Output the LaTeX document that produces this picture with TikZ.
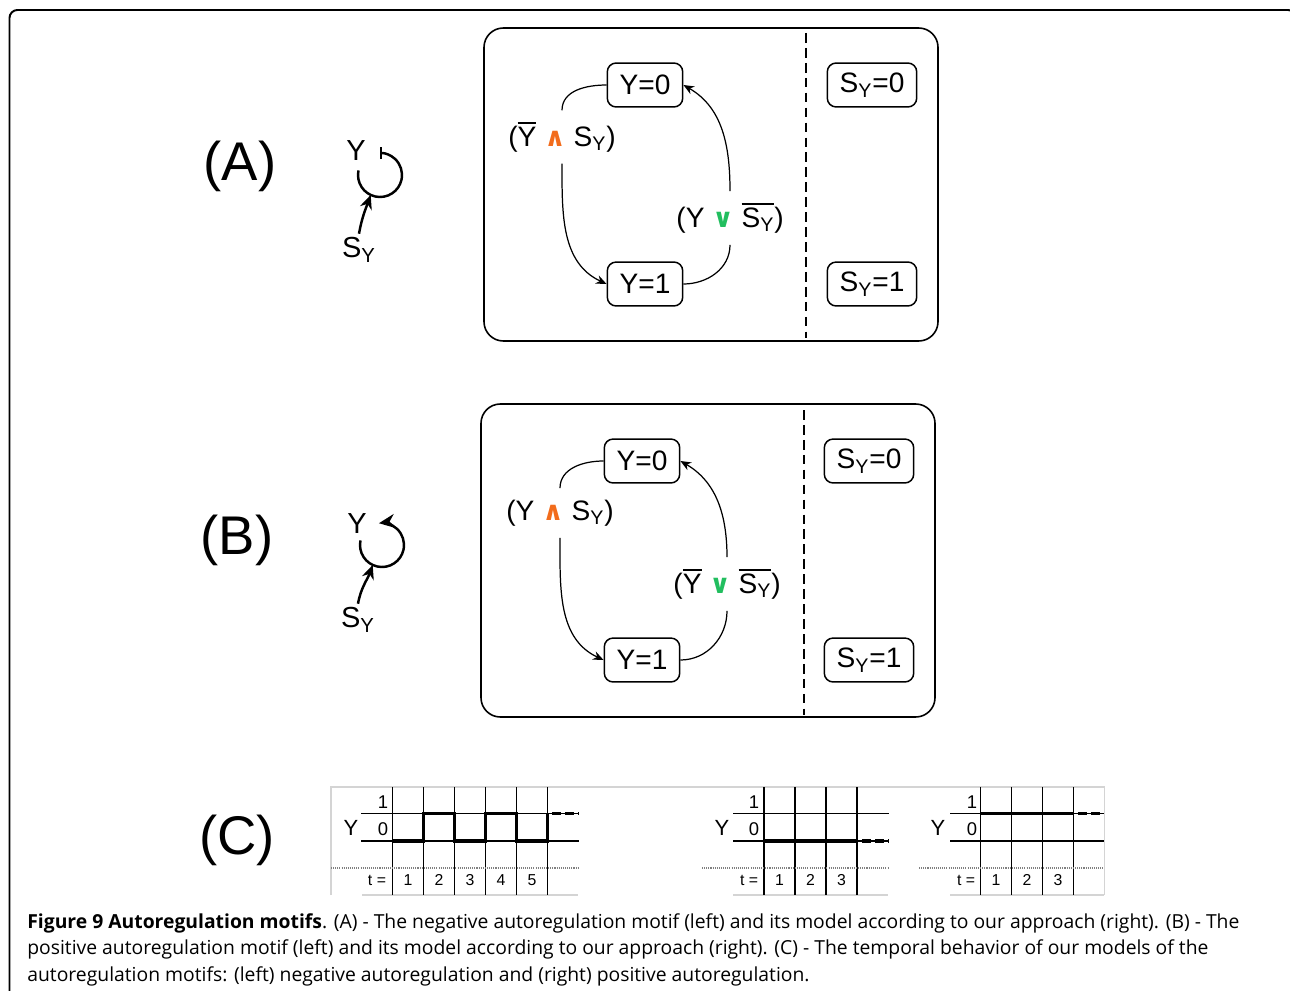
\documentclass[tikz,border=0pt]{standalone}
\usepackage{fontspec}
\setmainfont{Liberation Sans}
\newfontfamily\capfont{Open Sans}
\newfontfamily\opfont{DejaVu Sans}
\usetikzlibrary{arrows.meta}

\definecolor{andorange}{RGB}{242,108,28}
\definecolor{orgreen}{RGB}{34,190,95}
\definecolor{framegray}{RGB}{212,212,212}

\newcommand{\SY}{S\textsubscript{Y}}
\newcommand{\negd}[1]{\vbox{\hrule height 1.1pt\kern 1.6pt\hbox{#1}}}
\newcommand{\andop}{{\opfont\bfseries\fontsize{15}{15}\selectfont\color{andorange}∧}}
\newcommand{\orop}{{\opfont\bfseries\fontsize{15}{15}\selectfont\color{orgreen}∨}}

\tikzset{
  panel/.style={line width=0.9pt, rounded corners=11pt},
  state/.style={draw, line width=0.85pt, rounded corners=5pt, minimum height=25pt,
                inner xsep=7pt, font=\fontsize{16}{19}\selectfont},
  cond/.style={inner sep=6.5pt, font=\fontsize{16}{19}\selectfont},
  trans/.style={line width=0.7pt},
  divider/.style={line width=0.8pt, dash pattern=on 5.5pt off 3pt},
  motif/.style={line width=1.4pt},
  motiftext/.style={inner sep=2pt, font=\fontsize{16.5}{19}\selectfont},
  partlbl/.style={font=\fontsize{31}{36}\selectfont},
  gridline/.style={line width=0.8pt},
  dotline/.style={gray, line width=0.6pt, dash pattern=on 0.6pt off 0.6pt},
  signal/.style={line width=2.2pt, line join=miter},
  sigdash/.style={line width=2.2pt, dash pattern=on 5pt off 2.5pt},
  chartlbl/.style={inner sep=0pt, font=\fontsize{12.5}{14}\selectfont},
  levellbl/.style={inner sep=0pt, font=\fontsize{10.5}{12}\selectfont},
  ticklbl/.style={inner sep=0pt, font=\fontsize{9}{10}\selectfont},
  captext/.style={inner sep=0pt, anchor=base west, font=\capfont\fontsize{11}{13}\selectfont}
}

\begin{document}
\begin{tikzpicture}[x=0.02cm, y=0.02cm]
    \useasboundingbox (0,0) rectangle (1290,-990);

    % Outer frame
    \draw[line width=1.1pt, rounded corners=4.5pt] (9.5,-10) rectangle (1296,-1010);

    % Part labels
    \node[partlbl] (lblA) at (240,-166) {(A)};
    \node[partlbl] (lblB) at (237,-540) {(B)};
    \node[partlbl] (lblC) at (237,-840) {(C)};

    % (A) negative autoregulation motif
    \node[motiftext] (mYa) at (356,-151) {Y};
    \node[motiftext] (mSa) at (359,-250) {\SY};
    \coordinate (loopA) at (380,-175);
    \coordinate (hitA) at ([shift={(245:22)}]loopA);
    \draw[motif, -{Bar[width=7pt]}] ([shift={(168:22)}]loopA) arc[start angle=168, end angle=450, radius=22];
    \draw[motif, -{Stealth[length=8pt,width=7pt]}] (mSa.north) to[out=80,in=-110] (hitA);

    % (A) model
    \draw[panel] (484,-28) rectangle (938,-341);
    \draw[divider] (806,-33) -- (806,-338);
    \node[state] (y0a) at (645,-85) {Y=0};
    \node[state] (y1a) at (645,-284) {Y=1};
    \node[state] (s0a) at (872,-85) {\SY=0};
    \node[state] (s1a) at (872,-284) {\SY=1};
    \node[cond] (ca1) at (562,-137) {(\negd{Y} \andop{} \SY)};
    \node[cond] (ca2) at (730,-218) {(Y \orop{} \negd{\SY})};
    \draw[trans] (y0a.west) to[out=180,in=90] (ca1.north);
    \draw[trans, -{Stealth[length=6pt,width=5pt]}] (ca1.south) to[out=-90,in=155] (y1a.west);
    \draw[trans] (y1a.east) to[out=0,in=-90] (ca2.south);
    \draw[trans, -{Stealth[length=6pt,width=5pt]}] (ca2.north) to[out=90,in=-30] (y0a.east);

    % (B) positive autoregulation motif
    \node[motiftext] (mYb) at (357,-524) {Y};
    \node[motiftext] (mSb) at (358,-620) {\SY};
    \coordinate (loopB) at (382,-545);
    \coordinate (hitB) at ([shift={(245:22)}]loopB);
    \draw[motif, -{Stealth[length=9pt,width=8pt]}] ([shift={(168:22)}]loopB) arc[start angle=168, end angle=458, radius=22];
    \draw[motif, -{Stealth[length=8pt,width=7pt]}] (mSb.north) to[out=80,in=-110] (hitB);

    % (B) model
    \draw[panel] (481,-404) rectangle (935,-717);
    \draw[divider] (804,-410) -- (804,-715);
    \node[state] (y0b) at (642,-461) {Y=0};
    \node[state] (y1b) at (642,-660) {Y=1};
    \node[state] (s0b) at (869,-461) {\SY=0};
    \node[state] (s1b) at (869,-660) {\SY=1};
    \node[cond] (cb1) at (560,-513) {(Y \andop{} \SY)};
    \node[cond] (cb2) at (727,-584) {(\negd{Y} \orop{} \negd{\SY})};
    \draw[trans] (y0b.west) to[out=180,in=90] (cb1.north);
    \draw[trans, -{Stealth[length=6pt,width=5pt]}] (cb1.south) to[out=-90,in=155] (y1b.west);
    \draw[trans] (y1b.east) to[out=0,in=-90] (cb2.south);
    \draw[trans, -{Stealth[length=6pt,width=5pt]}] (cb2.north) to[out=90,in=-30] (y0b.east);

    % (C) frame of the time courses
    \draw[framegray, line width=0.8pt] (331,-895) -- (331,-787) -- (1104.5,-787) -- (1104.5,-895);
    \draw[framegray, line width=0.8pt] (362,-895) -- (578,-895);
    \draw[framegray, line width=0.8pt] (733,-895) -- (888,-895);
    \draw[framegray, line width=0.8pt] (950,-895) -- (1104,-895);

    % (C) left: negative autoregulation
    \foreach \x in {392.5,423.5,...,547.5} \draw[gridline] (\x,-787) -- (\x,-895);
    \draw[gridline] (361,-813.5) -- (579,-813.5);
    \draw[gridline] (361,-841) -- (579,-841);
    \draw[dotline] (331,-868) -- (579,-868);
    \node[chartlbl] (cYa) at (351,-828) {Y};
    \node[levellbl] (c1a) at (383,-802) {1};
    \node[levellbl] (c0a) at (383,-829) {0};
    \node[ticklbl] (cta) at (377,-880) {t =};
    \foreach \n in {1,...,5} \node[ticklbl] (ta\n) at (377+31*\n,-880) {\n};
    \draw[signal] (392.5,-841) -- (423.5,-841) -- (423.5,-813.5) -- (454.5,-813.5) -- (454.5,-841)
        -- (485.5,-841) -- (485.5,-813.5) -- (516.5,-813.5) -- (516.5,-841) -- (547.5,-841) -- (547.5,-813.5);
    \draw[sigdash] (552,-813.5) -- (579,-813.5);

    % (C) middle: positive autoregulation, Y starts at 0
    \foreach \x in {764,795,...,857} \draw[gridline] (\x,-787) -- (\x,-895);
    \draw[gridline] (733,-813.5) -- (889,-813.5);
    \draw[gridline] (733,-841) -- (889,-841);
    \draw[dotline] (702,-868) -- (889,-868);
    \node[chartlbl] (cYb) at (722,-828) {Y};
    \node[levellbl] (c1b) at (754,-802) {1};
    \node[levellbl] (c0b) at (754,-829) {0};
    \node[ticklbl] (ctb) at (749,-880) {t =};
    \foreach \n in {1,...,3} \node[ticklbl] (tb\n) at (748.5+31*\n,-880) {\n};
    \draw[signal] (764,-841) -- (857,-841);
    \draw[sigdash] (862,-841) -- (889,-841);

    % (C) right: positive autoregulation, Y starts at 1
    \foreach \x in {980.5,1011.5,...,1073.5} \draw[gridline] (\x,-787) -- (\x,-895);
    \draw[gridline] (950,-813.5) -- (1104,-813.5);
    \draw[gridline] (950,-841) -- (1104,-841);
    \draw[dotline] (919,-868) -- (1104,-868);
    \node[chartlbl] (cYc) at (938,-828) {Y};
    \node[levellbl] (c1c) at (972,-802) {1};
    \node[levellbl] (c0c) at (972,-829) {0};
    \node[ticklbl] (ctc) at (966,-880) {t =};
    \foreach \n in {1,...,3} \node[ticklbl] (tc\n) at (965+31*\n,-880) {\n};
    \draw[signal] (980.5,-813.5) -- (1073.5,-813.5);
    \draw[sigdash] (1078,-813.5) -- (1101,-813.5);

    % Caption
    \node[captext] (cap1) at (27,-928) {\textbf{Figure 9 Autoregulation motifs}. (A) - The negative autoregulation motif (left) and its model according to our approach (right). (B) - The};
    \node[captext] (cap2) at (27,-954.5) {positive autoregulation motif (left) and its model according to our approach (right). (C) - The temporal behavior of our models of the};
    \node[captext] (cap3) at (27,-981) {autoregulation motifs: (left) negative autoregulation and (right) positive autoregulation.};
\end{tikzpicture}
\end{document}
